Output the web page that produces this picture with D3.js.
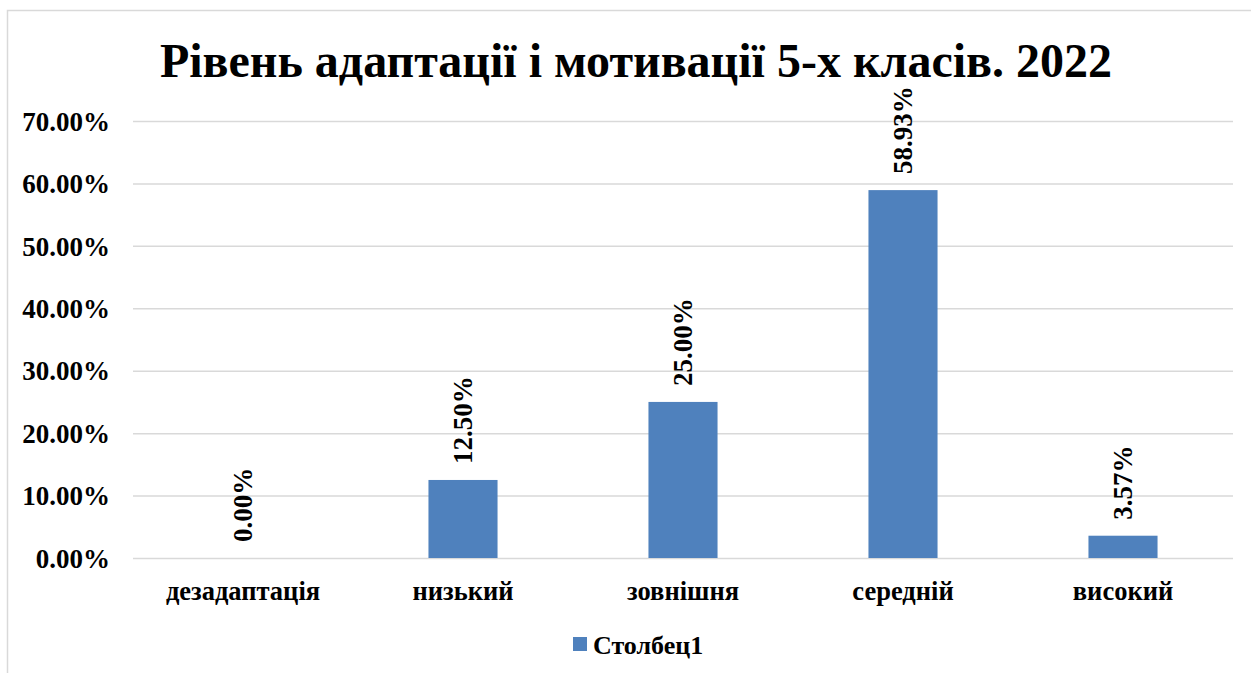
<!DOCTYPE html>
<html>
<head>
<meta charset="utf-8">
<script src="https://cdn.jsdelivr.net/npm/d3@7"></script>
<style>
  body { margin: 0; background: #fff; }
</style>
</head>
<body>
<div id="chart"></div>
<script>
const categories = ['дезадаптація', 'низький', 'зовнішня', 'середній', 'високий']
const values = [0, 0.125, 0.25, 0.5893, 0.0357]
const yTicks = [0, 0.1, 0.2, 0.3, 0.4, 0.5, 0.6, 0.7]
const seriesName = 'Столбец1'
const title = 'Рівень адаптації і мотивації 5-х класів. 2022'

const width = 1251, height = 673
const barColor = '#4f81bd'
const gridColor = '#d9d9d9'
const font = "'Liberation Serif', 'Times New Roman', serif"

let margin = { top: 121, right: 18, bottom: 115, left: 133 }

let svg = d3.select('#chart')
    .append('svg')
    .attr('width', width)
    .attr('height', height)

// outer chart frame (runs off the right and bottom edges)
svg.append('rect')
    .attr('x', 7.5)
    .attr('y', 10.5)
    .attr('width', width + 10)
    .attr('height', height + 10)
    .attr('fill', 'none')
    .attr('stroke', gridColor)
    .attr('stroke-width', 1.5)

let x = d3.scaleBand()
    .domain(categories)
    .range([margin.left, width - margin.right])
    .paddingInner(0.686)
    .paddingOuter(0.343)

let y = d3.scaleLinear()
    .domain([0, 0.7])
    .range([height - margin.bottom, margin.top])

// gridlines + y labels
let yAxis = svg.append('g')
    .attr('transform', `translate(${margin.left},0)`)
    .call(d3.axisLeft(y)
        .tickValues(yTicks)
        .tickSize(-(width - margin.right - margin.left))
        .tickPadding(23)
        .tickFormat(d => (d * 100).toFixed(2) + '%'))

yAxis.select('.domain').remove()
yAxis.selectAll('line')
    .attr('stroke', gridColor)
    .attr('stroke-width', 1.5)
yAxis.selectAll('text')
    .attr('font-size', 27)
    .attr('dy', '0.34em')

// bars
svg.append('g')
    .selectAll('rect')
    .data(values)
    .join('rect')
    .attr('x', (d, i) => x(categories[i]))
    .attr('y', d => y(d))
    .attr('width', x.bandwidth())
    .attr('height', d => y(0) - y(d))
    .attr('fill', barColor)

// data labels, rotated
svg.append('g')
    .selectAll('text')
    .data(values)
    .join('text')
    .attr('transform', (d, i) => `translate(${x(categories[i]) + x.bandwidth() / 2},${y(d) - 16}) rotate(-90)`)
    .attr('dy', '0.34em')
    .attr('font-size', 27)
    .text(d => (d * 100).toFixed(2) + '%')

// category labels
svg.append('g')
    .selectAll('text')
    .data(categories)
    .join('text')
    .attr('x', d => x(d) + x.bandwidth() / 2)
    .attr('y', 600)
    .attr('text-anchor', 'middle')
    .attr('font-size', 26.5)
    .text(d => d)

// title
svg.append('text')
    .attr('x', 636)
    .attr('y', 77)
    .attr('text-anchor', 'middle')
    .attr('font-size', 48)
    .text(title)

// legend
let legend = svg.append('g').attr('transform', 'translate(573,637)')
legend.append('rect')
    .attr('width', 14)
    .attr('height', 14)
    .attr('fill', barColor)
legend.append('text')
    .attr('x', 20)
    .attr('y', 17)
    .attr('font-size', 26)
    .text(seriesName)

// one font for every text
svg.selectAll('text')
    .style('font-family', font)
    .style('font-weight', 'bold')
    .attr('fill', '#000')
</script>
</body>
</html>
